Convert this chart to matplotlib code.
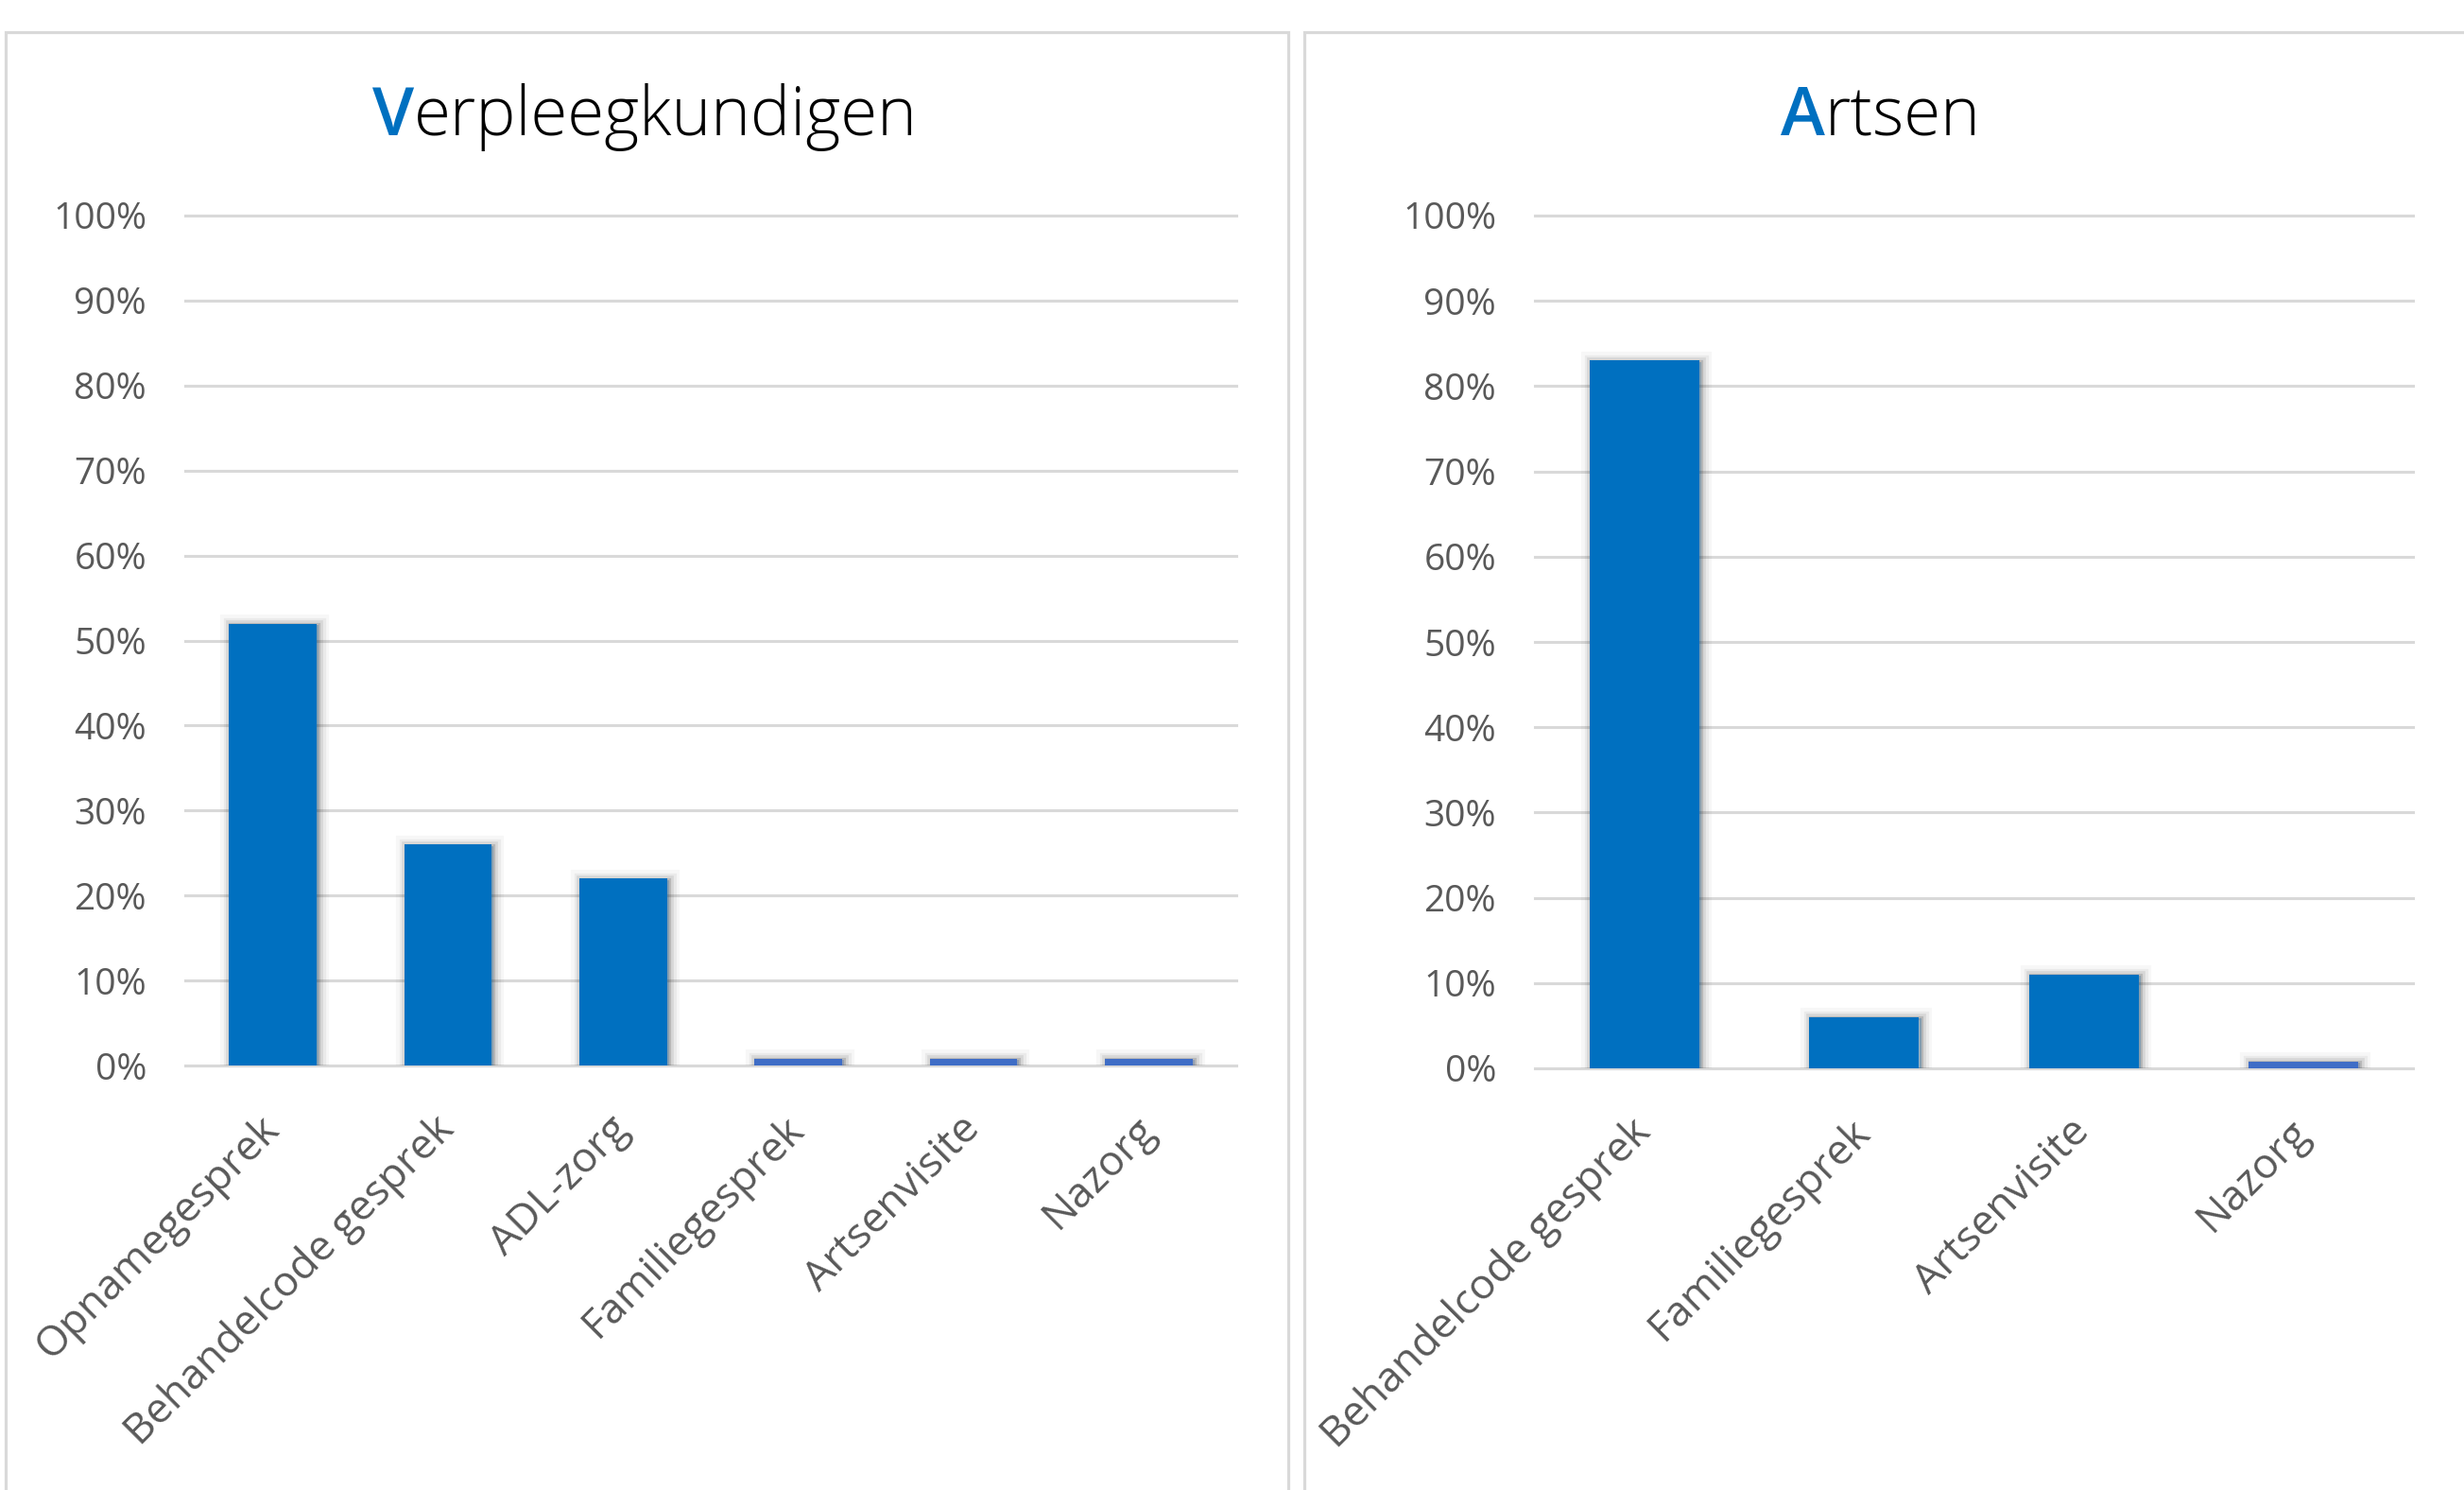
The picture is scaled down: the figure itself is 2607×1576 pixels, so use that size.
import matplotlib
matplotlib.use("Agg")
import matplotlib.pyplot as plt
import matplotlib.patheffects as pe
from matplotlib.patches import Rectangle

# data
nurse_categories = ["Opnamegesprek", "Behandelcode gesprek", "ADL-zorg",
                    "Familiegesprek", "Artsenvisite", "Nazorg"]
nurse_values = [0.52, 0.26, 0.22, 0.008, 0.008, 0.008]

doctor_categories = ["Behandelcode gesprek", "Familiegesprek", "Artsenvisite", "Nazorg"]
doctor_values = [0.83, 0.06, 0.11, 0.008]

y_ticks = [i / 10 for i in range(11)]
y_labels = [f"{i * 10}%" for i in range(11)]

W, H, DPI = 2607, 1576, 100
BLUE = "#0070C0"
SMALL_BLUE = "#3F6DC6"
GRID = "#D9D9D9"
LABEL = "#595959"
FONT = ["Open Sans", "DejaVu Sans"]

plt.rcParams["font.family"] = FONT

fig = plt.figure(figsize=(W / DPI, H / DPI), dpi=DPI)

# panel borders (two chart areas side by side)
fig.patches.append(Rectangle((6 / W, -0.05), (1363 - 6) / W, 1.05 - 34 / H,
                             transform=fig.transFigure, fill=False,
                             edgecolor=GRID, linewidth=2.3, zorder=0))
fig.patches.append(Rectangle((1380 / W, -0.05), 0.5, 1.05 - 34 / H,
                             transform=fig.transFigure, fill=False,
                             edgecolor=GRID, linewidth=2.3, zorder=0))

# soft outer shadow like the spreadsheet bars
shadow = [pe.Stroke(linewidth=16, foreground="black", alpha=0.03, offset=(1.5, -1)),
          pe.Stroke(linewidth=11, foreground="black", alpha=0.05, offset=(1.5, -1)),
          pe.Stroke(linewidth=7, foreground="black", alpha=0.08, offset=(1.5, -1)),
          pe.Stroke(linewidth=3, foreground="black", alpha=0.14, offset=(1.5, -1)),
          pe.Normal()]


def draw_panel(ax, cats, vals):
    x = list(range(len(cats)))
    colors = [BLUE if v >= 0.02 else SMALL_BLUE for v in vals]
    bars = ax.bar(x, vals, width=0.5, color=colors, linewidth=0, zorder=3)
    for b in bars:
        b.set_path_effects(shadow)
    ax.set_xlim(-0.5, len(cats) - 0.5)
    ax.set_ylim(0, 1)
    ax.set_yticks(y_ticks, y_labels)
    ax.set_xticks(x, cats, rotation=45, ha="right", va="center",
                  rotation_mode="anchor")
    ax.tick_params(axis="y", length=0, pad=29.5, labelsize=28, labelcolor=LABEL)
    ax.tick_params(axis="x", length=0, pad=44, labelsize=32, labelcolor=LABEL)
    ax.yaxis.grid(True, color=GRID, linewidth=2.2)
    for gl in ax.get_ygridlines():
        gl.set_clip_on(False)
    ax.set_axisbelow(True)
    for s in ax.spines.values():
        s.set_visible(False)


axL = fig.add_axes([196 / W, 1 - 1127 / H, 1112 / W, 899 / H])
draw_panel(axL, nurse_categories, nurse_values)

axR = fig.add_axes([1624 / W, 1 - 1130 / H, 929 / W, 902 / H])
draw_panel(axR, doctor_categories, doctor_values)


def two_tone_title(xc, y, first, rest):
    t1 = fig.text(0, y, first, color=BLUE, fontsize=51, fontweight="semibold",
                  va="baseline", ha="left")
    t2 = fig.text(0, y, rest, color="black", fontsize=51, fontweight="light",
                  va="baseline", ha="left")
    r = fig.canvas.get_renderer()
    w1 = t1.get_window_extent(r).width
    w2 = t2.get_window_extent(r).width
    start = xc - (w1 + w2) / 2
    t1.set_x(start / W)
    t2.set_x((start + w1) / W)


two_tone_title(682, 1 - 143 / H, "V", "erpleegkundigen")
two_tone_title(1990, 1 - 143 / H, "A", "rtsen")

fig.savefig("out.png", dpi=DPI)
